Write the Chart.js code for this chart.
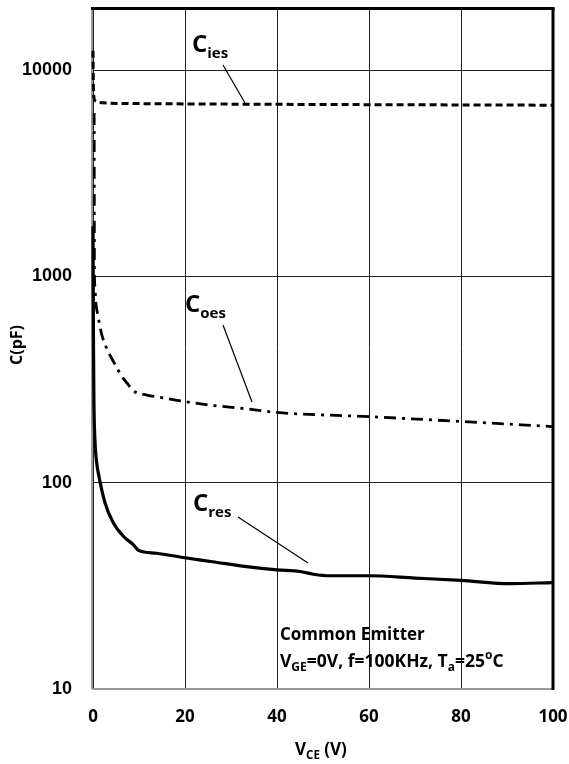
<!DOCTYPE html>
<html>
<head>
<meta charset="utf-8">
<script src="https://cdn.jsdelivr.net/npm/chart.js@4"></script>
<style>
  html, body { margin: 0; padding: 0; background: #fff; }
  #wrap { width: 569px; height: 764px; }
</style>
</head>
<body>
<div id="wrap"><canvas id="chart" width="569" height="764"></canvas></div>
<script>
// values, V_CE (V) against capacitance (pF)
var ciesV = [0, 0.05, 0.15, 0.5, 2, 10, 30, 60, 100];
var ciesC = [12400, 9500, 7600, 7100, 6950, 6880, 6840, 6800, 6760];

var coesV = [0.25, 0.28, 0.3, 0.4, 0.6, 1, 1.9, 2.8, 4.8, 6.3, 7.3, 9.1, 11.7, 16, 19.6, 26, 33.4, 40, 60, 80, 100];
var coesC = [6200, 2500, 1100, 900, 750, 660, 523, 457, 374, 327, 306, 276, 266, 256, 248, 237, 228, 219, 209, 198, 187];

var cresV = [0, 0.05, 0.1, 0.2, 0.4, 0.8, 1.2, 2.6, 4.4, 6.6, 8.8, 9.9, 13.8, 19.6, 26, 33.4, 40, 45, 47.9, 51.5, 60, 70, 80, 90.7, 100];
var cresC = [1750, 900, 500, 250, 165, 125, 110, 80, 64, 55, 50, 47, 45.5, 43.4, 41.4, 39.2, 37.8, 37.1, 36, 35.4, 35.4, 34.5, 33.6, 32.4, 32.8];

var xTicks = [0, 20, 40, 60, 80, 100];
var yTicks = [10, 100, 1000, 10000];

var FONT = '"Open Sans"';

function pts(xs, ys) {
	var out = [];
	for (var i = 0; i < xs.length; i++) out.push({x: xs[i], y: ys[i]});
	return out;
}

// draws a run of text pieces: [text, size, baseline shift]
function rich(ctx, x, y, parts) {
	for (var i = 0; i < parts.length; i++) {
		var p = parts[i];
		ctx.font = 'bold ' + p[1] + 'px ' + FONT;
		ctx.fillText(p[0], x, y + (p[2] || 0));
		x += ctx.measureText(p[0]).width;
	}
}

function line(ctx, x1, y1, x2, y2) {
	ctx.beginPath();
	ctx.moveTo(x1, y1);
	ctx.lineTo(x2, y2);
	ctx.stroke();
}

function noPad(s) {
	s.paddingTop = 0;
	s.paddingBottom = 0;
	s.paddingLeft = 0;
	s.paddingRight = 0;
}

var extras = {
	id: 'extras',
	beforeDatasetsDraw: function(c) {
		// grey left and bottom edges sit under the curves
		var ctx = c.ctx;
		var a = c.chartArea;
		ctx.save();
		ctx.strokeStyle = '#999';
		ctx.lineWidth = 2;
		line(ctx, a.left - 1, a.top, a.left - 1, a.bottom);
		line(ctx, a.left - 1, a.bottom, a.right, a.bottom);
		ctx.restore();
	},
	afterDraw: function(c) {
		var ctx = c.ctx;
		var a = c.chartArea;
		ctx.save();
		ctx.setLineDash([]);
		ctx.strokeStyle = '#000';
		ctx.lineWidth = 3;
		line(ctx, a.left - 2, a.top + 0.5, a.right + 1.5, a.top + 0.5);
		line(ctx, a.right, a.top, a.right, a.bottom + 1);

		// leader lines
		ctx.lineWidth = 1.2;
		line(ctx, 223, 65, 245, 103);
		line(ctx, 223, 325, 252, 402);
		line(ctx, 238, 517, 308, 563);

		ctx.fillStyle = '#000';
		ctx.textAlign = 'left';
		ctx.textBaseline = 'alphabetic';
		rich(ctx, 192, 52, [['C', 24], ['ies', 15, 6]]);
		rich(ctx, 185, 312, [['C', 24], ['oes', 15, 6]]);
		rich(ctx, 193, 511, [['C', 24], ['res', 15, 6]]);

		rich(ctx, 280, 640, [['Common Emitter', 17]]);
		rich(ctx, 280, 667, [['V', 17.5], ['GE', 12, 4], ['=0V, f=100KHz, T', 17.5], ['a', 12, 4], ['=25', 17.5], ['o', 12, -8], ['C', 17.5]]);

		// axis titles
		rich(ctx, 295, 755, [['V', 17], ['CE', 11.5, 4], [' (V)', 17]]);
		ctx.translate(22, 345);
		ctx.rotate(-Math.PI / 2);
		ctx.textAlign = 'center';
		ctx.font = 'bold 16px ' + FONT;
		ctx.fillText('C(pF)', 0, 0);
		ctx.restore();
	}
};

var ctx = document.getElementById('chart');
var chart = new Chart(ctx, {
	type: 'line',
	data: {
		datasets: [{
			label: 'Cies',
			data: pts(ciesV, ciesC),
			borderColor: '#000',
			borderWidth: 3,
			borderDash: [7, 4],
			pointRadius: 0,
			cubicInterpolationMode: 'monotone'
		}, {
			label: 'Coes',
			data: pts(coesV, coesC),
			borderColor: '#000',
			borderWidth: 2.8,
			borderDash: [12, 6, 3, 6],
			pointRadius: 0,
			cubicInterpolationMode: 'monotone'
		}, {
			label: 'Cres',
			data: pts(cresV, cresC),
			borderColor: '#000',
			borderWidth: 3.2,
			pointRadius: 0,
			cubicInterpolationMode: 'monotone'
		}]
	},
	options: {
		responsive: false,
		animation: false,
		clip: 4,
		layout: { padding: { top: 8, right: 16, left: 0, bottom: 0 } },
		plugins: { legend: { display: false }, tooltip: { enabled: false } },
		scales: {
			x: {
				type: 'linear',
				min: 0,
				max: 100,
				afterBuildTicks: function(s) { s.ticks = xTicks.map(function(v) { return {value: v}; }); },
				afterFit: function(s) { s.height = 75; noPad(s); },
				border: { display: false },
				grid: { color: '#222', lineWidth: 1, drawTicks: false },
				ticks: { color: '#000', padding: 18, font: { family: FONT, weight: 'bold', size: 17 } }
			},
			y: {
				type: 'logarithmic',
				min: 10,
				max: 20000,
				afterBuildTicks: function(s) { s.ticks = yTicks.map(function(v) { return {value: v}; }); },
				afterFit: function(s) { s.width = 93; noPad(s); },
				border: { display: false },
				grid: { color: '#222', lineWidth: 1, drawTicks: false },
				ticks: {
					color: '#000',
					padding: 21,
					font: { family: 'Liberation Sans', weight: 'bold', size: 18 },
					callback: function(v) { return String(v); }
				}
			}
		}
	},
	plugins: [extras]
});
</script>
</body>
</html>
